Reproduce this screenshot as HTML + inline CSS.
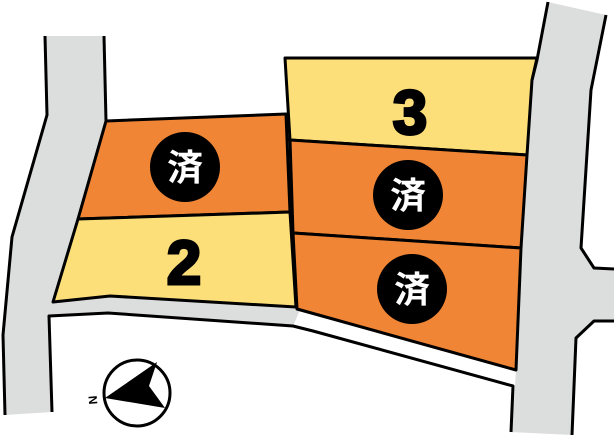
<!DOCTYPE html>
<html><head><style>body{margin:0;background:#fff}svg{display:block}</style></head><body>
<svg width="616" height="437" viewBox="0 0 616 437" xmlns="http://www.w3.org/2000/svg" font-family="Liberation Sans, Noto Sans CJK JP, sans-serif">
<g stroke="#000" stroke-width="3" stroke-linejoin="round">
<polygon points="45,36 104,36 106,121 53,302 110,296 296,307 300,310 516,370 515,386 511,432 572,435 576,338 594,321 614,321 614,269 594,268 581,248 591,90 606,15 548,2 537,60 532,80 527,155 521,248 516,370 300,310 293,326 108,313 49,316 52,412 5,415 3,335 12,237 47,115" fill="#dcdddd" stroke="none"/>
<polyline points="45,36 47,115 12,237 3,335 5,415" fill="none"/>
<polyline points="104,36 106,121" fill="none"/>
<polyline points="52,412 49,316 108,313 293,326 313,331 513,386 511,432" fill="none"/>
<polyline points="548,2 537,60 532,80" fill="none"/>
<polyline points="606,15 591,90 581,248 594,268 614,269" fill="none"/>
<polyline points="614,321 594,321 576,338 572,435" fill="none"/>
<polygon points="106,121 286,114 290,212 78,219" fill="#ef8535"/>
<polygon points="78,219 290,212 296,307 110,296 53,302" fill="#fddf79"/>
<polygon points="285,58 537,58 532,80 527,155 290,140" fill="#fddf79"/>
<polygon points="290,140 527,155 521,248 293,233" fill="#ef8535"/>
<polygon points="293,233 521,248 516,370 297,309" fill="#ef8535"/>
</g>
<circle cx="185" cy="167" r="35" fill="#000"/>
<circle cx="408" cy="195" r="35" fill="#000"/>
<circle cx="412" cy="289" r="35" fill="#000"/>
<g fill="#fff" font-size="36" text-anchor="middle" font-weight="bold">
<text x="185" y="180">済</text>
<text x="408" y="208">済</text>
<text x="412" y="302">済</text>
</g>
<g fill="#000" stroke="#000" stroke-width="3" font-size="62" font-weight="bold" text-anchor="middle">
<text x="410" y="134">3</text>
<text x="184" y="284">2</text>
</g>
<circle cx="137" cy="393" r="33" fill="#fff" stroke="#000" stroke-width="3"/>
<polygon points="105,398 157,362 149,386 165,408" fill="#000"/>
<text x="93" y="404" font-size="12" font-weight="bold" transform="rotate(-95 93 400)" text-anchor="middle">N</text>
</svg>
</body></html>
